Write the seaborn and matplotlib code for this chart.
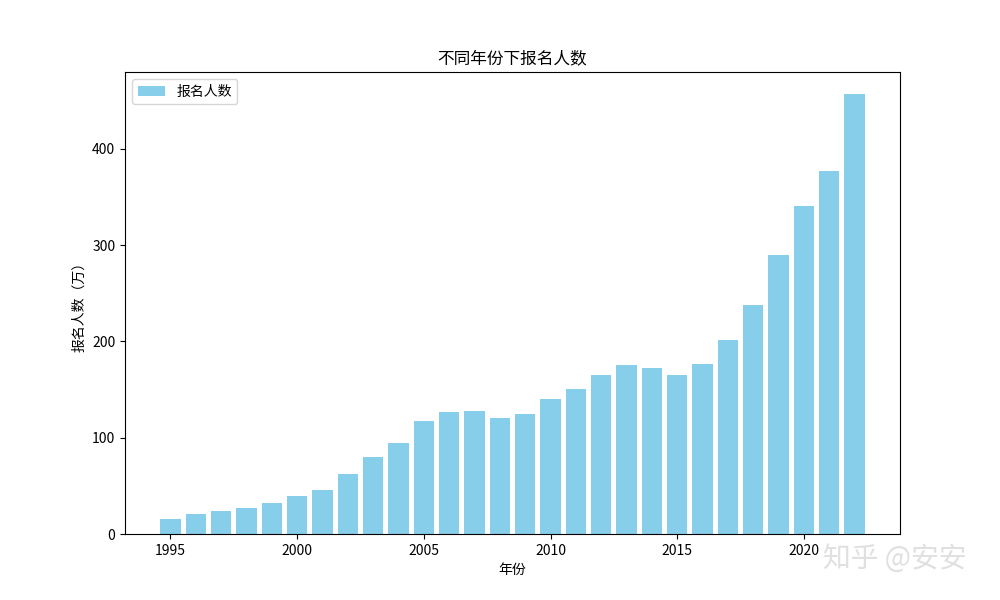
import matplotlib
matplotlib.use("Agg")
import matplotlib.pyplot as plt
import seaborn as sns
import pandas as pd

years = list(range(1995, 2023))
applicants = [15.5, 20.4, 24.2, 27.4, 31.9, 39.2, 46.0, 62.4, 79.7, 94.5,
              117.2, 127.1, 128.2, 120.0, 124.6, 140.0, 151.1, 165.6, 176.0, 172.0,
              164.9, 177.0, 201.0, 238.0, 290.0, 341.0, 377.0, 457.0]

plt.rcParams["font.family"] = ["Noto Sans CJK SC", "DejaVu Sans"]
plt.rcParams["axes.unicode_minus"] = False

df = pd.DataFrame({"year": years, "n": applicants})
fig, ax = plt.subplots(figsize=(10, 6), dpi=100)
ax.bar(df["year"], df["n"], color="skyblue", width=0.8, label="报名人数")
ax.set_title("不同年份下报名人数")
ax.set_xlabel("年份")
ax.set_ylabel("报名人数（万）")
ax.legend(loc="upper left")
fig.text(0.895, 0.068, "知乎 @安安", fontsize=20, color="#e0e0e0", ha="center", va="center")
fig.savefig("out.png")
